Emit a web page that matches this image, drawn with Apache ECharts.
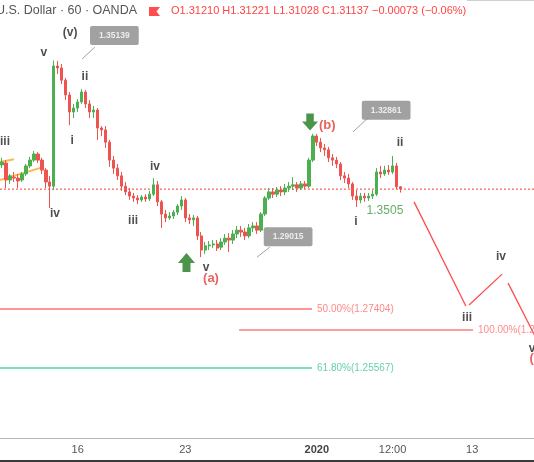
<!DOCTYPE html>
<html>
<head>
<meta charset="utf-8">
<script src="https://cdn.jsdelivr.net/npm/echarts@6/dist/echarts.min.js"></script>
<style>
  html, body { margin: 0; padding: 0; background: #fff; }
  #chart { width: 534px; height: 462px; }
</style>
</head>
<body>
<div id="chart"></div>
<script>
// GBP/USD 60 min, Elliott wave count (bars are compressed hourly slots)
const slotCount = 134;
const tickSlots = [19, 46, 79, 98, 118];
const tickLabels = ["16", "23", "2020", "12:00", "13"];

// [open, close, low, high]
const candles = [
  [1.3189, 1.3198, 1.3179, 1.3211], [1.3195, 1.3142, 1.3117, 1.3204], [1.3142, 1.3155, 1.3130, 1.3161],
  [1.3151, 1.3148, 1.3136, 1.3167], [1.3148, 1.3139, 1.3117, 1.3161], [1.3142, 1.3161, 1.3136, 1.3167],
  [1.3161, 1.3186, 1.3155, 1.3192], [1.3186, 1.3204, 1.3179, 1.3214], [1.3204, 1.3223, 1.3198, 1.3232],
  [1.3223, 1.3204, 1.3195, 1.3229], [1.3204, 1.3173, 1.3161, 1.3211], [1.3173, 1.3136, 1.3117, 1.3179],
  [1.3136, 1.3123, 1.3055, 1.3155], [1.3123, 1.3497, 1.3111, 1.3514], [1.3497, 1.3491, 1.3472, 1.3513],
  [1.3491, 1.3453, 1.3441, 1.3503], [1.3453, 1.3407, 1.3391, 1.3460], [1.3407, 1.3354, 1.3313, 1.3416],
  [1.3354, 1.3366, 1.3335, 1.3379], [1.3366, 1.3385, 1.3354, 1.3394], [1.3385, 1.3416, 1.3379, 1.3425],
  [1.3416, 1.3379, 1.3366, 1.3422], [1.3379, 1.3354, 1.3335, 1.3391], [1.3354, 1.3360, 1.3335, 1.3373],
  [1.3360, 1.3304, 1.3267, 1.3366], [1.3304, 1.3298, 1.3279, 1.3310], [1.3298, 1.3260, 1.3242, 1.3310],
  [1.3260, 1.3204, 1.3183, 1.3267], [1.3204, 1.3179, 1.3161, 1.3217], [1.3179, 1.3155, 1.3142, 1.3192],
  [1.3155, 1.3123, 1.3108, 1.3167], [1.3123, 1.3105, 1.3095, 1.3136], [1.3105, 1.3092, 1.3080, 1.3117],
  [1.3092, 1.3086, 1.3074, 1.3102], [1.3086, 1.3080, 1.3067, 1.3095], [1.3080, 1.3089, 1.3074, 1.3095],
  [1.3089, 1.3083, 1.3074, 1.3098], [1.3083, 1.3098, 1.3077, 1.3108], [1.3098, 1.3127, 1.3092, 1.3148],
  [1.3127, 1.3074, 1.3061, 1.3139], [1.3074, 1.3036, 1.2993, 1.3080], [1.3036, 1.3024, 1.3011, 1.3049],
  [1.3024, 1.3030, 1.3018, 1.3042], [1.3030, 1.3042, 1.3021, 1.3049], [1.3042, 1.3061, 1.3033, 1.3067],
  [1.3061, 1.3080, 1.3049, 1.3092], [1.3080, 1.3024, 1.3011, 1.3086], [1.3024, 1.3018, 1.3005, 1.3036],
  [1.3018, 1.3024, 1.2999, 1.3033], [1.3024, 1.2968, 1.2955, 1.3030], [1.2968, 1.2924, 1.2902, 1.2980],
  [1.2924, 1.2937, 1.2912, 1.2949], [1.2937, 1.2940, 1.2924, 1.2952], [1.2940, 1.2943, 1.2930, 1.2955],
  [1.2943, 1.2930, 1.2921, 1.2955], [1.2933, 1.2949, 1.2924, 1.2961], [1.2949, 1.2961, 1.2940, 1.2974],
  [1.2961, 1.2955, 1.2918, 1.2977], [1.2955, 1.2974, 1.2943, 1.2986], [1.2974, 1.2986, 1.2961, 1.2999],
  [1.2986, 1.2980, 1.2965, 1.2999], [1.2980, 1.2968, 1.2955, 1.2993], [1.2968, 1.2993, 1.2961, 1.3005],
  [1.2993, 1.2999, 1.2980, 1.3011], [1.2999, 1.2986, 1.2974, 1.3011], [1.2986, 1.3036, 1.2980, 1.3042],
  [1.3036, 1.3086, 1.3030, 1.3092], [1.3086, 1.3105, 1.3080, 1.3117], [1.3105, 1.3098, 1.3086, 1.3117],
  [1.3098, 1.3111, 1.3089, 1.3120], [1.3111, 1.3105, 1.3092, 1.3123], [1.3105, 1.3117, 1.3095, 1.3130],
  [1.3117, 1.3123, 1.3105, 1.3136], [1.3123, 1.3127, 1.3111, 1.3151], [1.3127, 1.3117, 1.3105, 1.3136],
  [1.3117, 1.3130, 1.3111, 1.3139], [1.3130, 1.3123, 1.3114, 1.3139], [1.3123, 1.3204, 1.3117, 1.3211],
  [1.3204, 1.3279, 1.3198, 1.3286], [1.3279, 1.3260, 1.3248, 1.3285], [1.3260, 1.3242, 1.3229, 1.3273],
  [1.3242, 1.3236, 1.3217, 1.3254], [1.3236, 1.3211, 1.3198, 1.3245], [1.3211, 1.3204, 1.3186, 1.3223],
  [1.3204, 1.3192, 1.3179, 1.3214], [1.3192, 1.3155, 1.3142, 1.3198], [1.3155, 1.3148, 1.3133, 1.3167],
  [1.3148, 1.3130, 1.3117, 1.3161], [1.3130, 1.3092, 1.3080, 1.3136], [1.3092, 1.3080, 1.3058, 1.3111],
  [1.3080, 1.3092, 1.3070, 1.3102], [1.3092, 1.3086, 1.3074, 1.3102], [1.3086, 1.3092, 1.3077, 1.3102],
  [1.3092, 1.3098, 1.3083, 1.3111], [1.3098, 1.3167, 1.3092, 1.3179], [1.3167, 1.3161, 1.3148, 1.3186],
  [1.3161, 1.3173, 1.3155, 1.3186], [1.3173, 1.3167, 1.3158, 1.3189], [1.3167, 1.3186, 1.3161, 1.3217],
  [1.3186, 1.3121, 1.3114, 1.3195], [1.3121, 1.3114, 1.3103, 1.3122]
];

const lastPrice = 1.31137;

// fibonacci levels: name, price, span (slots), label slot
const fibNames = ["50.00%", "61.80%", "100.00%"];
const fibPrices = [1.27404, 1.25567, 1.2675];
const fibSpans = [[-0.5, 77.8], [-0.5, 77.8], [59.5, 118.2]];
const fibLabelSlots = [79.05, 79.05, 119.45];

// orange trendlines on the left, projected path on the right
const trendlines = [
  [[-0.5, 1.3198], [3.0, 1.3207]],
  [[-0.5, 1.3142], [10.5, 1.3183]]
];
const projection = [
  [[103.4, 1.3074], [116.4, 1.2750]],
  [[117.2, 1.2753], [125.5, 1.2849]],
  [[127.0, 1.2821], [134.0, 1.2650]]
];

// price callouts: text, box centre, pointer line
const calloutTexts = ["1.35139", "1.29015", "1.32861"];
const calloutBoxes = [[28.2, 1.3592], [71.8, 1.2965], [96.4, 1.3359]];
const calloutPointers = [
  [[23.3, 1.3556], [20.1, 1.3519]],
  [[67.2, 1.2933], [64.0, 1.2902]],
  [[91.8, 1.3335], [88.1, 1.3292]]
];

// wave labels [text, slot, price]
const waveBlack = [
  ["(v)", 17.1, 1.3600], ["v", 10.5, 1.3538], ["ii", 20.8, 1.3463], ["i", 17.6, 1.3264],
  ["iii", 0.75, 1.3260], ["iv", 13.3, 1.3036], ["iv", 38.4, 1.3183], ["iii", 32.9, 1.3014],
  ["v", 51.2, 1.2868], ["ii", 99.9, 1.3257], ["i", 88.8, 1.3011], ["iii", 116.7, 1.2712],
  ["iv", 125.2, 1.2902], ["v", 133.0, 1.2616]
];
const waveRed = [["(a)", 52.45, 1.2837], ["(b)", 81.6, 1.3313]];
const waveRedLeft = [["(c)", 132.4, 1.2588]];
const greenNote = [["1.3505", 96.1, 1.3046]];
const arrowsUp = [[46.3, 1.2885]];
const arrowsDown = [[77.3, 1.3323]];

const chart = echarts.init(document.getElementById("chart"));
const font = "Liberation Sans, Arial, sans-serif";
const arrowPath = "path://M8.5,0 L17,10 L12.5,10 L12.5,19 L4.5,19 L4.5,10 L0,10 Z";

function seg(points, color, width, type) {
  return {
    type: "line", xAxisIndex: 1, yAxisIndex: 0, symbol: "none", silent: true,
    data: points, lineStyle: { color: color, width: width, type: type || "solid" },
    z: 3
  };
}

function labels(rows, style, position) {
  return {
    type: "scatter", xAxisIndex: 1, symbolSize: 0, silent: true, z: 6,
    data: rows.map((r) => ({ name: r[0], value: [r[1], r[2]] })),
    label: Object.assign({ show: true, position: position || "inside", formatter: "{b}", fontFamily: font }, style)
  };
}

const fibColors = ["#ff7070", "#7fdcc0", "#ff3b3b"];
const fibTextColors = ["#ff6b6b", "#3fc49a", "#ff6b6b"];
const fibWidths = [1.5, 2, 1];

const series = [
  {
    type: "candlestick",
    xAxisIndex: 0,
    data: candles,
    barWidth: "72%",
    itemStyle: { color: "#4caf50", color0: "#ef5350", borderColor: "#4caf50", borderColor0: "#ef5350", borderWidth: 1 },
    z: 4
  },
  seg([[-0.5, lastPrice], [slotCount - 0.5, lastPrice]], "#f44336", 1, [2, 2])
];

fibPrices.forEach((p, k) => {
  series.push(seg([[fibSpans[k][0], p], [fibSpans[k][1], p]], fibColors[k], fibWidths[k]));
  series.push(labels([[fibNames[k] + "(" + p.toFixed(5) + ")", fibLabelSlots[k], p]],
    { color: fibTextColors[k], fontSize: 10, distance: 0 }, "right"));
});
trendlines.forEach((t) => series.push(seg(t, "#ffb74d", 2)));
projection.forEach((t) => series.push(seg(t, "#ff4d4d", 1.3)));
calloutPointers.forEach((t) => series.push(seg(t, "#a0a0a0", 1)));

series.push(labels(calloutTexts.map((t, k) => [t, calloutBoxes[k][0], calloutBoxes[k][1]]), {
  color: "#fff", fontSize: 8.5, fontWeight: "bold", backgroundColor: "#8a8a8a",
  padding: [5, 9, 5, 9], borderRadius: 2
}));
series.push(labels(waveBlack, { color: "#222", fontSize: 12, fontWeight: "bold" }));
series.push(labels(waveRed, { color: "#e53935", fontSize: 13, fontWeight: "bold" }));
series.push(labels(waveRedLeft, { color: "#e53935", fontSize: 13, fontWeight: "bold", distance: 0 }, "right"));
series.push(labels(greenNote, { color: "#3d9a3d", fontSize: 12 }));
series.push({
  type: "scatter", xAxisIndex: 1, silent: true, z: 6, symbol: arrowPath, symbolSize: [17, 19],
  itemStyle: { color: "#1e7b1e" }, data: arrowsUp
});
series.push({
  type: "scatter", xAxisIndex: 1, silent: true, z: 6, symbol: arrowPath, symbolSize: [16, 17],
  symbolRotate: 180, itemStyle: { color: "#1e7b1e" }, data: arrowsDown
});

const option = {
  animation: false,
  backgroundColor: "#fff",
  textStyle: { fontFamily: font },
  grid: { left: 0, right: 0, top: 0, bottom: 24 },
  xAxis: [
    {
      type: "category",
      data: Array.from({ length: slotCount }, (_, i) => String(i)),
      boundaryGap: true,
      axisLine: { lineStyle: { color: "#b2b5be", width: 1 } },
      axisTick: {
        alignWithLabel: true, length: 3,
        interval: (i) => tickSlots.includes(i),
        lineStyle: { color: "#9a9da5" }
      },
      axisLabel: {
        interval: (i) => tickSlots.includes(i),
        formatter: (v, i) => {
          const k = tickSlots.indexOf(Number(v));
          return k === 2 ? "{b|" + tickLabels[k] + "}" : tickLabels[k];
        },
        color: "#555", fontSize: 11, margin: 6,
        rich: { b: { fontWeight: "bold", color: "#444", fontSize: 11 } }
      },
      splitLine: { show: false }
    },
    { type: "value", min: -0.5, max: slotCount - 0.5, show: false }
  ],
  yAxis: {
    type: "value", min: 1.23387, max: 1.37026, show: false, splitLine: { show: false }
  },
  graphic: [
    { type: "text", x: -4, y: 11, style: { text: "U.S. Dollar · 60 · OANDA", fill: "#555", fontSize: 12.5, fontFamily: font, verticalAlign: "middle" } },
    { type: "polygon", shape: { points: [[149, 7], [160, 7], [156.5, 11.5], [160, 16], [149, 16]] }, style: { fill: "#ff4d4d" } },
    { type: "text", x: 171, y: 11, style: { text: "O1.31210 H1.31221 L1.31028 C1.31137 \u22120.00073 (\u22120.06%)", fill: "#f44", fontSize: 11, fontFamily: font, verticalAlign: "middle" } },
    { type: "line", shape: { x1: 467, y1: 0.5, x2: 534, y2: 0.5 }, style: { stroke: "#cfcfcf", lineWidth: 1 } },
    { type: "rect", shape: { x: 0, y: 460, width: 534, height: 2 }, style: { fill: "#3a3a3a" } }
  ],
  series: series
};

chart.setOption(option);
</script>
</body>
</html>
